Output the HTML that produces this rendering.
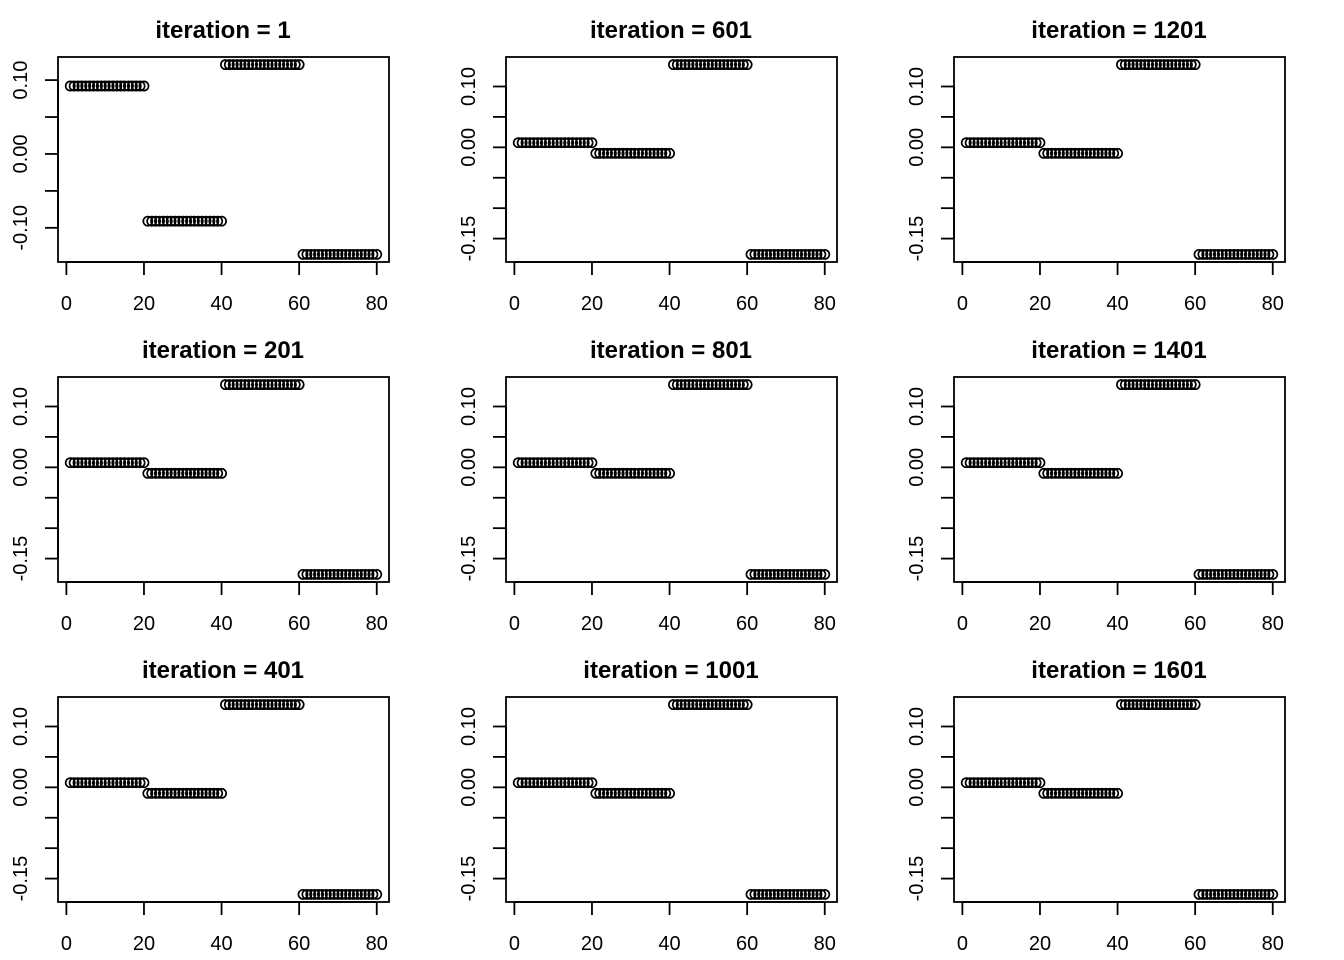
<!DOCTYPE html>
<html><head><meta charset="utf-8"><style>
html,body{margin:0;padding:0;background:#fff;}
svg{display:block;font-family:"Liberation Sans",Arial,sans-serif;}
</style></head><body>
<svg id="chart" width="1344" height="960" viewBox="0 0 1344 960" xmlns="http://www.w3.org/2000/svg"></svg>
<script>
const iterations = [1, 601, 1201, 201, 801, 1401, 401, 1001, 1601];
const groupValuesFirst = [0.092, -0.091, 0.121, -0.136];
const groupValuesRest = [0.0076, -0.0099, 0.136, -0.176];
const groupSize = 20;
const xTicks = [0, 20, 40, 60, 80];
const yTicks = [0.10, 0.05, 0.00, -0.05, -0.10, -0.15];
const yLabelsFirst = ["0.10", "0.00", "-0.10"];
const yLabelsRest = ["0.10", "0.00", "-0.15"];

const NS = "http://www.w3.org/2000/svg";
const svg = document.getElementById("chart");
function mk(tag, attrs, parent) {
  const e = document.createElementNS(NS, tag);
  for (const k in attrs) e.setAttribute(k, attrs[k]);
  parent.appendChild(e);
  return e;
}
const BL = 58, BR = 389, BT = 57, BB = 262;
const SW = 1.8;

iterations.forEach((it, idx) => {
  const col = idx % 3, row = Math.floor(idx / 3);
  const ox = col * 448, oy = row * 320;
  const g = mk("g", { transform: `translate(${ox},${oy})` }, svg);
  
  
  const groups = idx === 0 ? groupValuesFirst : groupValuesRest;
  const labels = idx === 0 ? yLabelsFirst : yLabelsRest;
  const vals = [];
  groups.forEach(v => { for (let i = 0; i < groupSize; i++) vals.push(v); });
  const n = vals.length;
  const xr = n - 1, x0 = 1 - 0.04 * xr, x1 = n + 0.04 * xr;
  const ymin = Math.min(...vals), ymax = Math.max(...vals), yr = ymax - ymin;
  const y0 = ymin - 0.04 * yr, y1 = ymax + 0.04 * yr;
  const sx = v => BL + (v - x0) / (x1 - x0) * (BR - BL);
  const sy = v => BB - (v - y0) / (y1 - y0) * (BB - BT);

  const t = mk("text", { x: 223, y: 38, "text-anchor": "middle", "font-size": 24, "font-weight": "bold" }, g);
  t.textContent = "iteration = " + it;
  
  

  const box = mk("rect", { x: BL, y: BT, width: BR - BL, height: BB - BT, fill: "none", stroke: "#000", "stroke-width": SW }, g);
  
  

  const xa = mk("g", {}, g);
  
  
  mk("line", { x1: sx(xTicks[0]), x2: sx(xTicks[xTicks.length - 1]), y1: BB, y2: BB, stroke: "#000", "stroke-width": SW }, xa);
  xTicks.forEach(v => {
    mk("line", { x1: sx(v), x2: sx(v), y1: BB, y2: BB + 13, stroke: "#000", "stroke-width": SW }, xa);
    const l = mk("text", { x: sx(v), y: 310, "text-anchor": "middle", "font-size": 20 }, xa);
    l.textContent = v;
    
    
  });

  const ya = mk("g", {}, g);
  
  
  const inRange = yTicks.filter(v => v >= y0 && v <= y1);
  mk("line", { x1: BL, x2: BL, y1: sy(Math.max(...inRange)), y2: sy(Math.min(...inRange)), stroke: "#000", "stroke-width": SW }, ya);
  inRange.forEach(v => {
    mk("line", { x1: BL - 13, x2: BL, y1: sy(v), y2: sy(v), stroke: "#000", "stroke-width": SW }, ya);
    const s = v.toFixed(2);
    if (labels.includes(s)) {
      const l = mk("text", { x: 0, y: 0, "text-anchor": "middle", "font-size": 20, transform: `translate(27,${sy(v)}) rotate(-90)` }, ya);
      l.textContent = s;
      
      
    }
  });

  const pts = mk("g", { fill: "none", stroke: "#000", "stroke-width": 1.7 }, g);
  
  
  vals.forEach((v, i) => {
    const c = mk("circle", { cx: sx(i + 1), cy: sy(v), r: 4.6 }, pts);
    
    
  });
});
</script>
</body></html>
